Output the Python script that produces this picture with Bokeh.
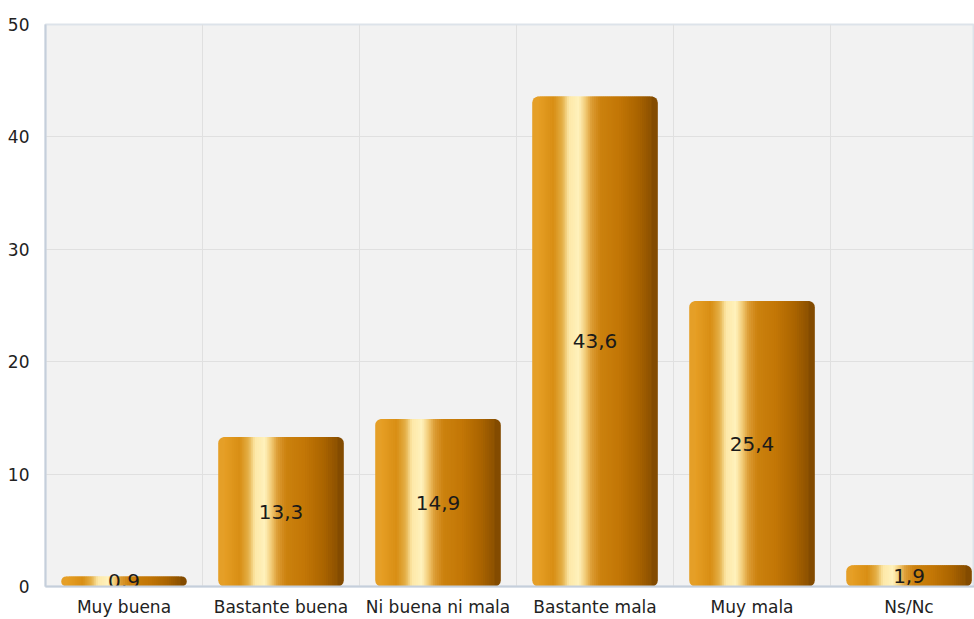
import numpy as np
from bokeh.plotting import figure
from bokeh.models import Range1d, FixedTicker, ColumnDataSource
from bokeh.core.properties import value
from bokeh.embed import file_html
from bokeh.resources import INLINE

# ---- data ----
categories = ["Muy buena", "Bastante buena", "Ni buena ni mala", "Bastante mala", "Muy mala", "Ns/Nc"]
values = [0.9, 13.3, 14.9, 43.6, 25.4, 1.9]
labels = ["0,9", "13,3", "14,9", "43,6", "25,4", "1,9"]
y_ticks = [0, 10, 20, 30, 40, 50]

# ---- style ----
FONT = "DejaVu Sans"
BAR_W = 0.8
N = 60
stops = [
    (0.00, "#e4a02a"), (0.06, "#e69e24"), (0.18, "#d88e14"), (0.25, "#e4b048"),
    (0.30, "#fde8a8"), (0.38, "#fff2bc"), (0.43, "#f2cc78"), (0.48, "#dc9c34"),
    (0.55, "#cc820e"), (0.70, "#c27606"), (0.85, "#aa6400"), (0.95, "#8e5200"),
    (1.00, "#7c4600"),
]

def hex2rgb(h):
    return np.array([int(h[i:i + 2], 16) for i in (1, 3, 5)], dtype=float)

sf = np.array([s[0] for s in stops])
sc = np.array([hex2rgb(s[1]) for s in stops])

def grad(t):
    rgb = [np.interp(t, sf, sc[:, k]) for k in range(3)]
    return "#%02x%02x%02x" % tuple(int(round(c)) for c in rgb)

p = figure(width=974, height=619, output_backend="svg", toolbar_location=None,
           x_range=Range1d(0, 5.917), y_range=Range1d(0, 50),
           min_border_left=45, min_border_top=24, min_border_right=0, min_border_bottom=33)
p.background_fill_color = "#f2f2f2"
p.border_fill_color = "white"
p.outline_line_color = "#dde3ea"
p.outline_line_width = 2

# grid
p.xgrid.ticker = FixedTicker(ticks=[1, 2, 3, 4, 5])
p.xgrid.grid_line_color = "#e0e0e0"
p.ygrid.ticker = FixedTicker(ticks=y_ticks)
p.ygrid.grid_line_color = "#e0e0e0"

# axes
p.xaxis.ticker = FixedTicker(ticks=[i + 0.5 for i in range(len(categories))])
p.xaxis.major_label_overrides = {i + 0.5: c for i, c in enumerate(categories)}
p.yaxis.ticker = FixedTicker(ticks=y_ticks)
for ax in (p.xaxis, p.yaxis):
    ax.axis_line_color = "#c5cfdb"
    ax.axis_line_width = 2
    ax.major_tick_line_color = None
    ax.minor_tick_line_color = None
    ax.major_label_text_font = FONT
    ax.major_label_text_font_size = "17px"
    ax.major_label_text_color = "#222222"
p.xaxis.major_label_standoff = 4
p.yaxis.major_label_standoff = 10

# gradient bars built from overlapping strips
sw = BAR_W / N
edge = 3
xs, tops, cols = [], [], []
lx, rx, et = [], [], []
for i, v in enumerate(values):
    c = i + 0.5
    left = c - BAR_W / 2
    for k in range(edge, N - edge):
        xs.append(left + (k + 0.5) * sw)
        tops.append(v)
        cols.append(grad((k + 0.5) / N))
    lx.append(left + edge * sw / 2)
    rx.append(left + BAR_W - edge * sw / 2)
    et.append(v)

p.vbar(x=xs, top=tops, bottom=0, width=sw * 2.0, fill_color=cols, line_color=None)
p.vbar(x=lx, top=et, bottom=0, width=edge * sw, fill_color=grad(0.03), line_color=None,
       border_radius=(7, 0, 0, 7))
p.vbar(x=rx, top=et, bottom=0, width=edge * sw, fill_color=grad(0.98), line_color=None,
       border_radius=(0, 7, 7, 0))

src = ColumnDataSource(dict(x=[i + 0.5 for i in range(len(values))],
                            y=[v / 2 for v in values], t=labels))
p.text(x="x", y="y", text="t", source=src, text_align="center", text_baseline="middle",
       text_font=value(FONT), text_font_size="20px", text_color="#1a1a1a")

open("out.html", "w").write(file_html(p, INLINE))
